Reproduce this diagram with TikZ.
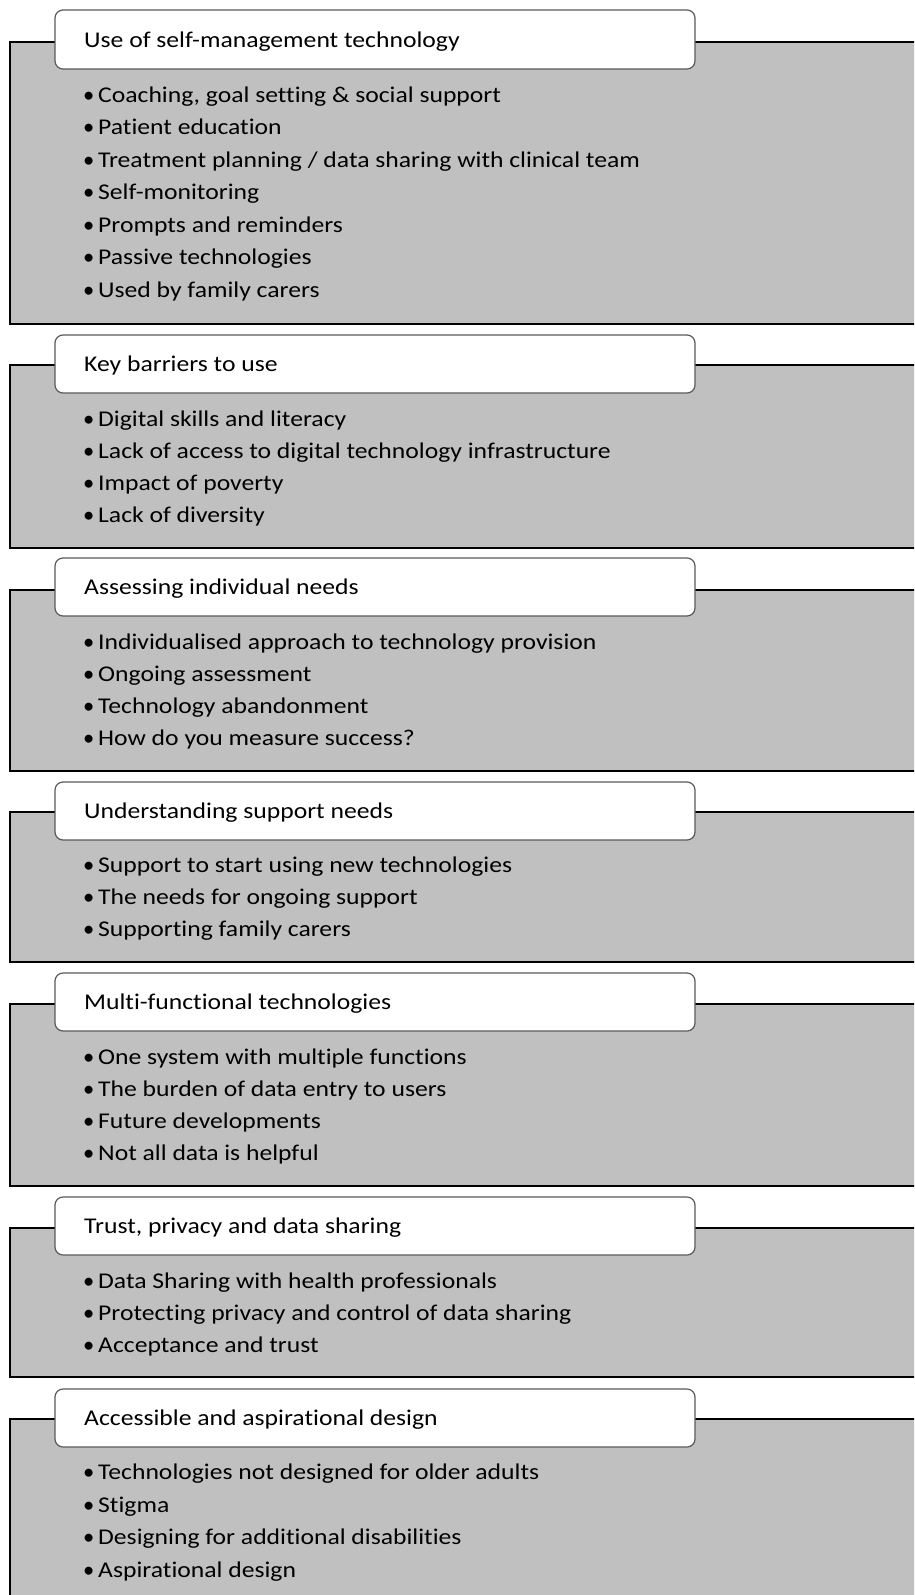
\documentclass[tikz,border=0pt]{standalone}
\usepackage{fontspec}
\setmainfont{Carlito}[Ligatures=NoCommon]
\definecolor{boxgray}{HTML}{C0C0C0}
\definecolor{titleedge}{HTML}{5A5A5A}
\tikzset{
  panel/.style={draw=black, line width=1.6pt, fill=boxgray},
  titlebox/.style={draw=titleedge, line width=1.2pt, fill=white, rounded corners=8pt},
  titletext/.style={anchor=base west, inner sep=0pt, font=\fontsize{22.5}{26}\selectfont},
  itemtext/.style={anchor=base west, inner sep=0pt, font=\fontsize{22.5}{26}\selectfont},
}
\newcommand{\hs}[1]{\scalebox{1.14}[1]{#1}}
\newcommand{\itm}[1]{\makebox[15pt][l]{\textbullet}\hs{#1}}
\begin{document}
\begin{tikzpicture}[x=1pt,y=-1pt]
\useasboundingbox (0,0) rectangle (914,1595);
\clip (0,0) rectangle (914,1595);
\fill[white] (0,0) rectangle (914,1595);
% Section 1
\draw[panel] (10,42) rectangle (940,324);
\draw[titlebox] (55,10) rectangle (695,69);
\node[titletext] (t1) at (84,47.5) {\hs{Use of self-management technology}};
\node[itemtext] (a1) at (83,102) {\itm{Coaching, goal setting \& social support}};
\node[itemtext] (a2) at (83,134.5) {\itm{Patient education}};
\node[itemtext] (a3) at (83,167) {\itm{Treatment planning / data sharing with clinical team}};
\node[itemtext] (a4) at (83,199.5) {\itm{Self-monitoring}};
\node[itemtext] (a5) at (83,232) {\itm{Prompts and reminders}};
\node[itemtext] (a6) at (83,264.5) {\itm{Passive technologies}};
\node[itemtext] (a7) at (83,297) {\itm{Used by family carers}};
% Section 2
\draw[panel] (10,365) rectangle (940,548);
\draw[titlebox] (55,335) rectangle (695,393);
\node[titletext] (t2) at (84,371.5) {\hs{Key barriers to use}};
\node[itemtext] (b1) at (83,426) {\itm{Digital skills and literacy}};
\node[itemtext] (b2) at (83,458.3) {\itm{Lack of access to digital technology infrastructure}};
\node[itemtext] (b3) at (83,490.6) {\itm{Impact of poverty}};
\node[itemtext] (b4) at (83,522.9) {\itm{Lack of diversity}};
% Section 3
\draw[panel] (10,590) rectangle (940,771);
\draw[titlebox] (55,558) rectangle (695,616);
\node[titletext] (t3) at (84,594.5) {\hs{Assessing individual needs}};
\node[itemtext] (c1) at (83,649) {\itm{Individualised approach to technology provision}};
\node[itemtext] (c2) at (83,681.3) {\itm{Ongoing assessment}};
\node[itemtext] (c3) at (83,713.6) {\itm{Technology abandonment}};
\node[itemtext] (c4) at (83,745.9) {\itm{How do you measure success?}};
% Section 4
\draw[panel] (10,812) rectangle (940,962);
\draw[titlebox] (55,782) rectangle (695,840);
\node[titletext] (t4) at (84,818.5) {\hs{Understanding support needs}};
\node[itemtext] (d1) at (83,872.7) {\itm{Support to start using new technologies}};
\node[itemtext] (d2) at (83,904.5) {\itm{The needs for ongoing support}};
\node[itemtext] (d3) at (83,936.7) {\itm{Supporting family carers}};
% Section 5
\draw[panel] (10,1004) rectangle (940,1186);
\draw[titlebox] (55,973) rectangle (695,1031);
\node[titletext] (t5) at (84,1009.5) {\hs{Multi-functional technologies}};
\node[itemtext] (e1) at (83,1064) {\itm{One system with multiple functions}};
\node[itemtext] (e2) at (83,1096.3) {\itm{The burden of data entry to users}};
\node[itemtext] (e3) at (83,1128.6) {\itm{Future developments}};
\node[itemtext] (e4) at (83,1160.9) {\itm{Not all data is helpful}};
% Section 6
\draw[panel] (10,1228) rectangle (940,1377);
\draw[titlebox] (55,1197) rectangle (695,1255);
\node[titletext] (t6) at (84,1233.5) {\hs{Trust, privacy and data sharing}};
\node[itemtext] (f1) at (83,1288) {\itm{Data Sharing with health professionals}};
\node[itemtext] (f2) at (83,1320.3) {\itm{Protecting privacy and control of data sharing}};
\node[itemtext] (f3) at (83,1352.6) {\itm{Acceptance and trust}};
% Section 7
\draw[panel] (10,1419) rectangle (940,1640);
\draw[titlebox] (55,1389) rectangle (695,1447);
\node[titletext] (t7) at (84,1425.5) {\hs{Accessible and aspirational design}};
\node[itemtext] (g1) at (83,1479.5) {\itm{Technologies not designed for older adults}};
\node[itemtext] (g2) at (83,1512) {\itm{Stigma}};
\node[itemtext] (g3) at (83,1544.5) {\itm{Designing for additional disabilities}};
\node[itemtext] (g4) at (83,1577) {\itm{Aspirational design}};
\end{tikzpicture}
\end{document}
